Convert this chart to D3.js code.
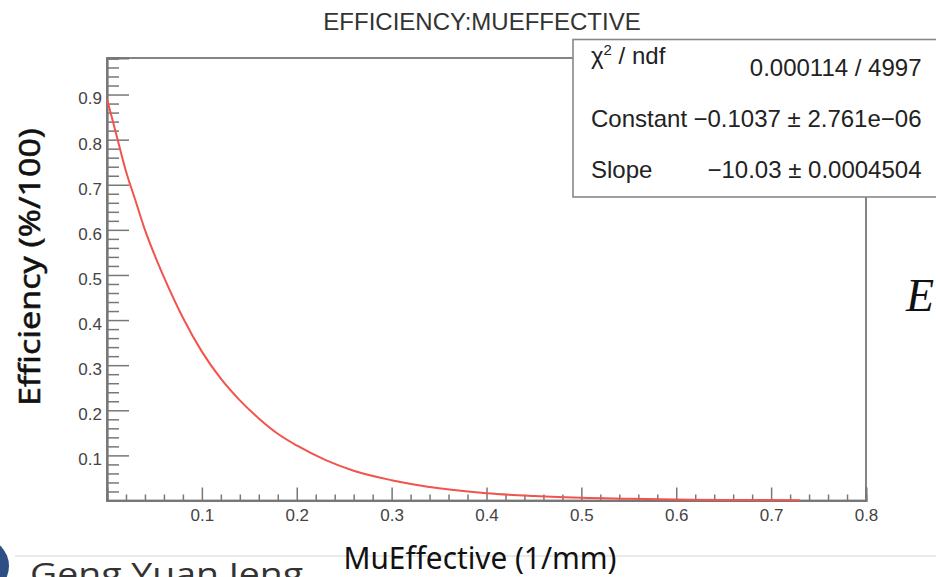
<!DOCTYPE html>
<html>
<head>
<meta charset="utf-8">
<script src="https://cdn.jsdelivr.net/npm/d3@7"></script>
<style>
  html, body { margin: 0; padding: 0; background: #fff; }
  svg { display: block; }
  text { font-family: "Liberation Sans", Arial, sans-serif; }
</style>
</head>
<body>
<div id="chart"></div>
<script>
// values (MuEffective vs efficiency)
const muValues  = [0, 0.01, 0.02, 0.03, 0.04, 0.05, 0.06, 0.08, 0.10, 0.12, 0.14, 0.16, 0.18, 0.20,
                   0.23, 0.26, 0.30, 0.35, 0.40, 0.45, 0.50, 0.55, 0.60, 0.65, 0.73];
const effValues = [0.89, 0.81, 0.73, 0.665, 0.60, 0.545, 0.495, 0.405, 0.33, 0.27, 0.222, 0.182, 0.148, 0.122,
                   0.090, 0.066, 0.045, 0.027, 0.016, 0.010, 0.006, 0.004, 0.0022, 0.0013, 0.0006];

const xTicks = [0.1, 0.2, 0.3, 0.4, 0.5, 0.6, 0.7, 0.8];
const yTicks = [0.1, 0.2, 0.3, 0.4, 0.5, 0.6, 0.7, 0.8, 0.9];

const statLabels = ['χ2 / ndf', 'Constant', 'Slope'];
const statValues = ['0.000114 / 4997', '\u22120.1037 \u00b1 2.761e\u221206', '\u221210.03 \u00b1 0.0004504'];

const title = 'EFFICIENCY:MUEFFECTIVE';
const xTitle = 'MuEffective (1/mm)';
const yTitle = 'Efficiency (%/100)';

const width = 936, height = 577;
const frame = { left: 107, right: 866, top: 58, bottom: 500.5 };

const svg = d3.select('#chart').append('svg')
  .attr('width', width)
  .attr('height', height);

const x = d3.scaleLinear().domain([0, 0.8]).range([frame.left, frame.right]);
const y = d3.scaleLinear().domain([0, 0.981]).range([frame.bottom, frame.top]);

const minorX = d3.range(0, 0.8001, 0.02).filter(v => Math.abs(v * 10 - Math.round(v * 10)) > 1e-6);
const minorY = d3.range(0, 0.981, 0.02).filter(v => Math.abs(v * 10 - Math.round(v * 10)) > 1e-6);

const axisColor = '#777';

// frame
svg.append('rect')
  .attr('x', frame.left).attr('y', frame.top)
  .attr('width', frame.right - frame.left)
  .attr('height', frame.bottom - frame.top)
  .attr('fill', 'none')
  .attr('stroke', axisColor)
  .attr('stroke-width', 1.8);

// x axis
const xMinor = svg.append('g')
  .attr('transform', `translate(0,${frame.bottom})`)
  .call(d3.axisBottom(x).tickValues(minorX).tickSize(-6).tickFormat(''));
const xMajor = svg.append('g')
  .attr('transform', `translate(0,${frame.bottom})`)
  .call(d3.axisBottom(x).tickValues(xTicks).tickSize(-13).tickPadding(8).tickFormat(d3.format('.1f')));

// y axis
const yMinor = svg.append('g')
  .attr('transform', `translate(${frame.left},0)`)
  .call(d3.axisLeft(y).tickValues(minorY).tickSize(-12).tickFormat(''));
const yMajor = svg.append('g')
  .attr('transform', `translate(${frame.left},0)`)
  .call(d3.axisLeft(y).tickValues(yTicks).tickSize(-22).tickPadding(5).tickFormat(d3.format('.1f')));

[xMinor, xMajor, yMinor, yMajor].forEach(g => {
  g.select('.domain').attr('stroke', axisColor).attr('stroke-width', 1.8);
  g.selectAll('.tick line').attr('stroke', axisColor).attr('stroke-width', 1.5);
  g.selectAll('.tick text')
    .attr('fill', '#444')
    .style('font-size', '17px')
    .style('font-family', '"Liberation Sans", Arial, sans-serif');
});
yMajor.selectAll('.tick text').attr('dy', '0.55em');

// fitted curve
const line = d3.line()
  .x((d, i) => x(muValues[i]))
  .y(d => y(d))
  .curve(d3.curveMonotoneX);

svg.append('path')
  .datum(effValues)
  .attr('d', line)
  .attr('fill', 'none')
  .attr('stroke', '#f0544c')
  .attr('stroke-width', 2);

// title
svg.append('text')
  .attr('x', 482).attr('y', 30)
  .attr('text-anchor', 'middle')
  .attr('fill', '#333')
  .style('font-size', '24px')
  .text(title);

// stats box
const box = svg.append('g');
box.append('rect')
  .attr('x', 573).attr('y', 39.5)
  .attr('width', 400).attr('height', 157.5)
  .attr('fill', '#fff')
  .attr('stroke', '#888')
  .attr('stroke-width', 1.6);

const labelBase = [63.5, 127, 177.5];
const valueBase = [75.5, 127, 178];

statLabels.forEach((s, i) => {
  const t = box.append('text')
    .attr('x', 591).attr('y', labelBase[i])
    .attr('fill', '#222')
    .style('font-size', '24px');
  if (i === 0) {
    t.append('tspan').text('χ');
    t.append('tspan').attr('dy', -9).style('font-size', '15px').text('2');
    t.append('tspan').attr('dy', 9).text(' / ndf');
  } else {
    t.text(s);
  }
});

statValues.forEach((s, i) => {
  box.append('text')
    .attr('x', 921.5).attr('y', valueBase[i])
    .attr('text-anchor', 'end')
    .attr('fill', '#222')
    .style('font-size', '24px')
    .text(s);
});

// axis titles
svg.append('text')
  .attr('transform', 'translate(40,267) rotate(-90)')
  .attr('text-anchor', 'middle')
  .attr('fill', '#111')
  .attr('stroke', '#111')
  .attr('stroke-width', 0.5)
  .attr('textLength', 278)
  .attr('lengthAdjust', 'spacingAndGlyphs')
  .style('font-family', '"Noto Sans", "Open Sans", sans-serif')
  .style('font-size', '29px')
  .text(yTitle);

// slide decorations around the chart
svg.append('line')
  .attr('x1', 15).attr('x2', width)
  .attr('y1', 556).attr('y2', 556)
  .attr('stroke', '#e2e2e2')
  .attr('stroke-width', 1.5);

svg.append('circle')
  .attr('cx', -19).attr('cy', 566).attr('r', 28)
  .attr('fill', '#2e4f85');

svg.append('text')
  .attr('x', 30).attr('y', 585)
  .attr('fill', '#333')
  .attr('textLength', 273)
  .attr('lengthAdjust', 'spacingAndGlyphs')
  .style('font-family', '"Open Sans", "Noto Sans", sans-serif')
  .style('font-size', '31px')
  .text('Geng Yuan Jeng');

svg.append('text')
  .attr('x', 480).attr('y', 569)
  .attr('text-anchor', 'middle')
  .attr('fill', '#111')
  .attr('textLength', 273)
  .attr('lengthAdjust', 'spacingAndGlyphs')
  .style('font-family', '"Noto Sans", "Open Sans", sans-serif')
  .style('font-size', '31px')
  .text(xTitle);

svg.append('text')
  .attr('x', 906).attr('y', 311)
  .attr('fill', '#111')
  .style('font-family', '"Liberation Serif", "DejaVu Serif", serif')
  .style('font-style', 'italic')
  .style('font-size', '46px')
  .text('E');
</script>
</body>
</html>
